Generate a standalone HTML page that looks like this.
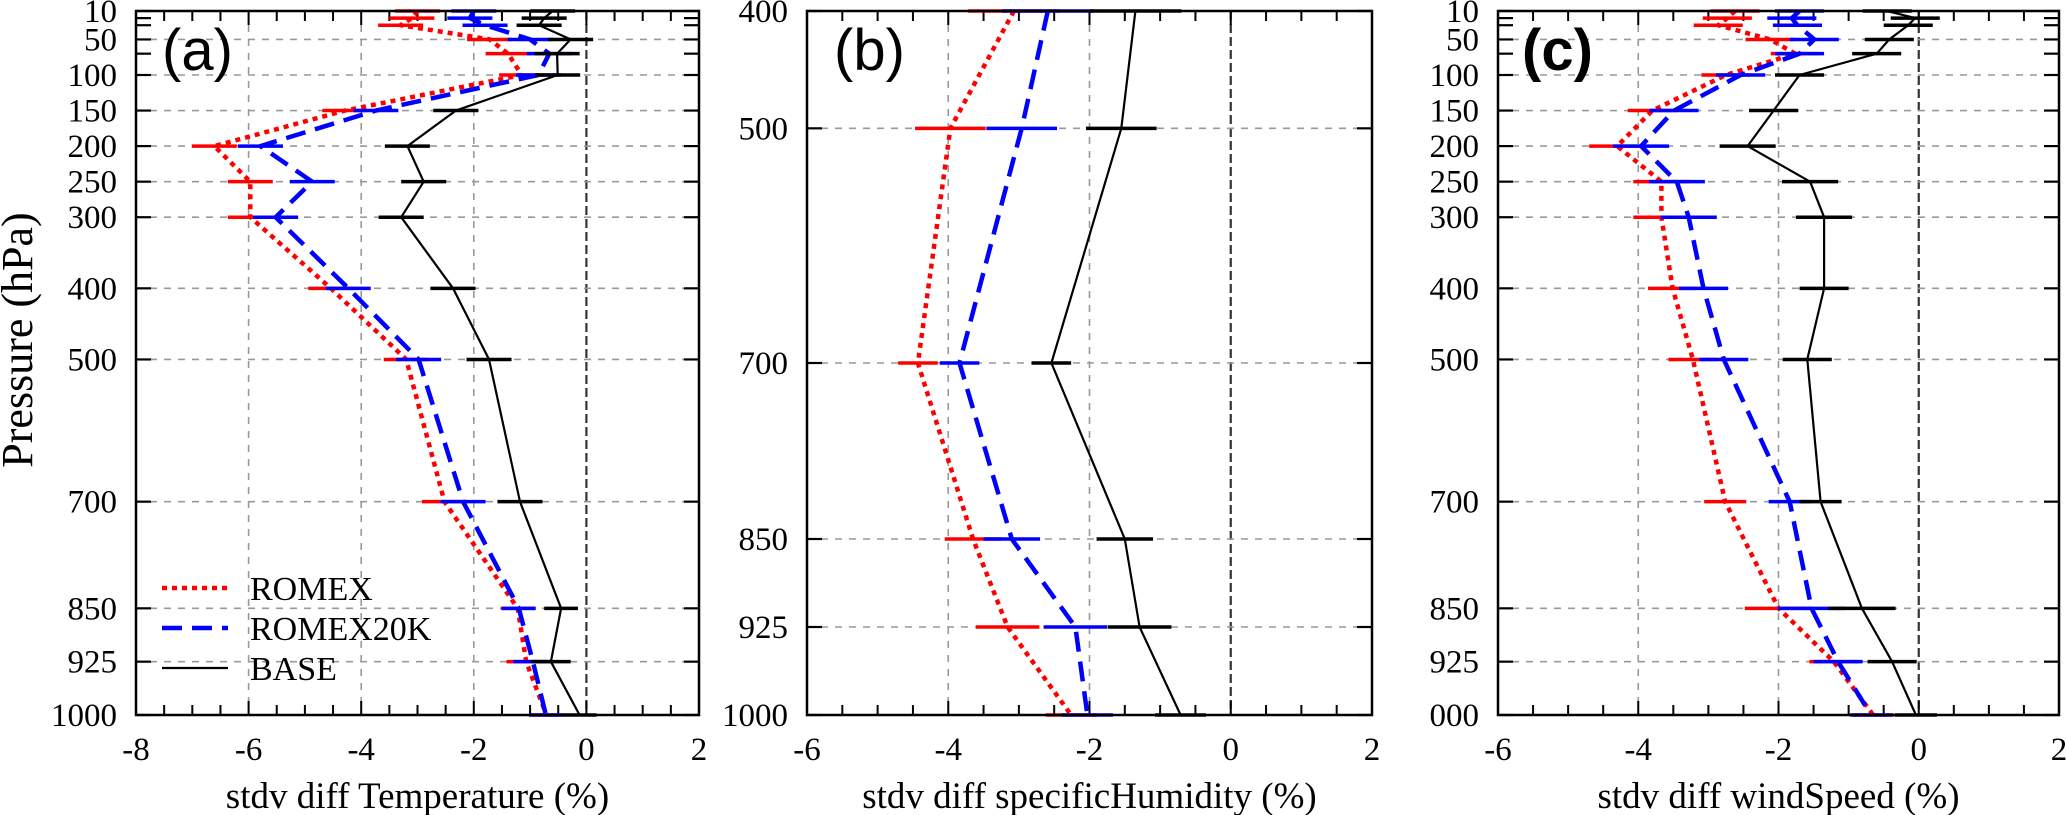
<!DOCTYPE html>
<html><head><meta charset="utf-8">
<style>
html,body{margin:0;padding:0;background:#fff;}
svg{display:block;font-family:"Liberation Serif",serif;}
</style></head>
<body>
<svg id="chart" width="2066" height="815" viewBox="0 0 2066 815" xmlns="http://www.w3.org/2000/svg"></svg>
<script>
// ---------- data ----------
const levelsAC = [10,20,30,50,70,100,150,200,250,300,400,500,700,850,925,1000];
const levelsB = [400,500,700,850,925,1000];
const tickLabelsAC = [10,50,100,150,200,250,300,400,500,700,850,925,1000];
const minorTicksAC = [20,30,70];
const tickLabelsB = [400,500,700,850,925,1000];
const xTicksA = [-8,-6,-4,-2,0,2];
const xTicksBC = [-6,-4,-2,0,2];

const tempRomex    = [-3.0,-3.1,-3.3,-1.72,-1.39,-1.15,-4.29,-6.61,-5.97,-5.97,-4.54,-3.2,-2.52,-1.22,-1.07,-0.71];
const tempRomex20k = [-2.0,-2.07,-1.8,-1.0,-0.66,-0.85,-3.74,-5.79,-4.87,-5.52,-4.23,-2.98,-2.19,-1.2,-0.95,-0.72];
const tempBase     = [-0.6,-0.75,-0.84,-0.28,-0.52,-0.51,-2.32,-3.18,-2.89,-3.29,-2.37,-1.73,-1.18,-0.45,-0.63,-0.12];
const tempErr      = [0.4,0.4,0.4,0.4,0.4,0.4,0.4,0.4,0.4,0.4,0.4,0.4,0.4,0.3,0.35,0.3];

const humRomex    = [-3.07,-3.97,-4.43,-3.65,-3.16,-2.26];
const humRomex20k = [-2.59,-2.96,-3.84,-3.1,-2.2,-2.03];
const humBase     = [-1.35,-1.55,-2.54,-1.5,-1.29,-0.71];
const humErr      = [0.65,0.5,0.28,0.4,0.45,0.36];

const windRomex    = [-2.62,-2.73,-2.86,-2.12,-1.76,-2.75,-3.8,-4.3,-3.67,-3.67,-3.51,-3.22,-2.76,-2.0,-1.21,-0.65];
const windRomex20k = [-1.7,-1.81,-1.73,-1.49,-1.7,-2.54,-3.49,-3.96,-3.45,-3.28,-3.07,-2.78,-1.84,-1.53,-1.15,-0.68];
const windBase     = [-0.45,-0.05,-0.15,-0.42,-0.6,-1.7,-2.07,-2.44,-1.55,-1.35,-1.35,-1.59,-1.4,-0.81,-0.38,-0.04];
const windErr      = [0.35,0.35,0.35,0.35,0.35,0.35,0.35,0.4,0.4,0.4,0.35,0.35,0.3,0.48,0.35,0.3];

const legendNames = ["ROMEX","ROMEX20K","BASE"];

// ---------- drawing ----------
const NS = "http://www.w3.org/2000/svg";
const svg = document.getElementById("chart");
function mk(tag, attrs, parent){
  const e = document.createElementNS(NS, tag);
  for (const k in attrs) e.setAttribute(k, attrs[k]);
  (parent||svg).appendChild(e);
  return e;
}
const styles = [
  {color:"#ff0000", dash:"5 5", w:4.5},
  {color:"#0000ff", dash:"20 10", w:4.5},
  {color:"#000000", dash:"", w:2.2}
];

function panel(cfg){
  const g = mk("g", {});
  
  
  const L=cfg.left, R=cfg.right, T=11, B=715;
  const xs = v => L + (v - cfg.xmin) / (cfg.xmax - cfg.xmin) * (R - L);
  const ys = p => T + (p - cfg.pmin) / (cfg.pmax - cfg.pmin) * (B - T);
  for (const v of cfg.xticks){
    if (v===cfg.xmin || v===cfg.xmax) continue;
    const gl = mk("line", {x1:xs(v),x2:xs(v),y1:T,y2:B,stroke:v===0?"#333":"#999","stroke-width":v===0?2.2:1.6,"stroke-dasharray":v===0?"9 4":"7 7"}, g);
    
    
  }
  for (const p of cfg.ylabels){
    if (p===cfg.pmin || p===cfg.pmax) continue;
    const gl = mk("line", {x1:L,x2:R,y1:ys(p),y2:ys(p),stroke:"#999","stroke-width":1.6,"stroke-dasharray":"7 7"}, g);
    
    
  }
  for (let v=cfg.xmin; v<=cfg.xmax+1e-9; v+=0.5){
    const major = Math.abs(v%2)<1e-9;
    const len = major?14:10;
    mk("line",{x1:xs(v),x2:xs(v),y1:B,y2:B-len,stroke:"#000","stroke-width":2},g);
    mk("line",{x1:xs(v),x2:xs(v),y1:T,y2:T+len,stroke:"#000","stroke-width":2},g);
  }
  for (const v of cfg.xticks){
    const t = mk("text",{x:xs(v),y:760,"font-size":33,"text-anchor":"middle"},g);
    t.textContent = v;
    
    
  }
  const ytk = cfg.ylabels.concat(cfg.yminor||[]);
  for (const p of ytk){
    mk("line",{x1:L,x2:L+15,y1:ys(p),y2:ys(p),stroke:"#000","stroke-width":2.2},g);
    mk("line",{x1:R,x2:R-15,y1:ys(p),y2:ys(p),stroke:"#000","stroke-width":2.2},g);
  }
  cfg.ylabels.forEach((p,i)=>{
    const t = mk("text",{x:L-19,y:ys(p)+11,"font-size":33,"text-anchor":"end"},g);
    t.textContent = (cfg.clipLast && p===1000) ? "000" : p;
    
    
  });
  cfg.series.forEach((vals,si)=>{
    const st = styles[si];
    const sg = mk("g",{},g);
    
    
    vals.forEach((v,i)=>{
      const e = cfg.err[i];
      const b = mk("line",{x1:xs(v-e),x2:xs(v+e),y1:ys(cfg.levels[i]),y2:ys(cfg.levels[i]),stroke:st.color,"stroke-width":3.5},sg);
      
      
    });
    const pts = vals.map((v,i)=>xs(v).toFixed(1)+","+ys(cfg.levels[i]).toFixed(1)).join(" ");
    const pl = mk("polyline",{points:pts,fill:"none",stroke:st.color,"stroke-width":st.w,"stroke-dasharray":st.dash,"stroke-linejoin":"round"},sg);
    
    
  });
  const fr = mk("rect",{x:L,y:T,width:R-L,height:B-T,fill:"none",stroke:"#000","stroke-width":2.5},g);
  
  
  const pl = mk("text",{x:cfg.labX,y:70,"font-size":58,"font-family":"Liberation Sans, sans-serif","font-weight":cfg.bold?"bold":"normal"},g);
  pl.textContent = cfg.label;
  
  
  const xt = mk("text",{x:(L+R)/2,y:808,"font-size":37,"text-anchor":"middle"},g);
  xt.textContent = cfg.xtitle;
  
  
}

panel({name:"panel-a-temperature",left:136,right:699,xmin:-8,xmax:2,pmin:10,pmax:1000,
  xticks:xTicksA,ylabels:tickLabelsAC,yminor:minorTicksAC,levels:levelsAC,
  series:[tempRomex,tempRomex20k,tempBase],err:tempErr,label:"(a)",labX:162,
  xtitle:"stdv diff Temperature (%)"});
panel({name:"panel-b-humidity",left:807,right:1372,xmin:-6,xmax:2,pmin:400,pmax:1000,
  xticks:xTicksBC,ylabels:tickLabelsB,levels:levelsB,
  series:[humRomex,humRomex20k,humBase],err:humErr,label:"(b)",labX:834,
  xtitle:"stdv diff specificHumidity (%)"});
panel({name:"panel-c-windspeed",left:1498,right:2059,xmin:-6,xmax:2,pmin:10,pmax:1000,
  xticks:xTicksBC,ylabels:tickLabelsAC,yminor:minorTicksAC,levels:levelsAC,clipLast:true,
  series:[windRomex,windRomex20k,windBase],err:windErr,label:"(c)",labX:1522,bold:true,
  xtitle:"stdv diff windSpeed (%)"});

const yt = mk("text",{x:0,y:0,"font-size":44,"text-anchor":"middle",transform:"translate(32,340) rotate(-90)"});
yt.textContent = "Pressure (hPa)";



const lg = mk("g",{});


const legY = [588,628,668];
legendNames.forEach((n,i)=>{
  const st = styles[i];
  const ent = mk("g",{},lg);
  
  
  mk("line",{x1:162,x2:228,y1:legY[i],y2:legY[i],stroke:st.color,"stroke-width":st.w,"stroke-dasharray":st.dash},ent);
  const t = mk("text",{x:250,y:legY[i]+12,"font-size":34},ent);
  t.textContent = n;
});
</script>
</body></html>
